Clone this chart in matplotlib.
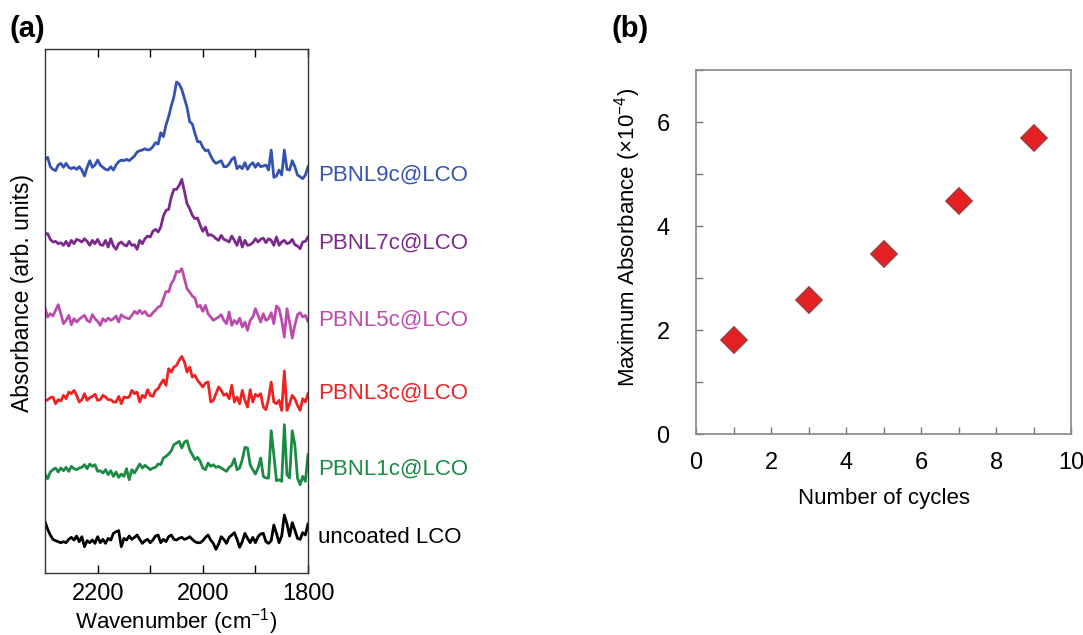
import matplotlib
matplotlib.use("Agg")
import matplotlib.pyplot as plt
import numpy as np

plt.rcParams["font.family"] = ["Liberation Sans", "DejaVu Sans"]
plt.rcParams["mathtext.fontset"] = "custom"
plt.rcParams["mathtext.rm"] = "Liberation Sans"
plt.rcParams["mathtext.it"] = "Liberation Sans"

# ---- panel (a): IR spectra, 2300 -> 1800 cm-1, 5 cm-1 step (arb. units) ----
wn_start, wn_end = 2300, 1800

pbnl9 = [62, 68, 40, 32, 28, 45, 50, 38, 50, 38,
         34, 38, 32, 40, 30, 12, 38, 58, 38, 45,
         60, 45, 38, 32, 30, 40, 30, 45, 55, 60,
         58, 62, 58, 65, 72, 84, 88, 90, 94, 90,
         92, 100, 112, 108, 142, 130, 165, 190, 222, 250,
         294, 288, 272, 245, 218, 175, 168, 140, 115, 115,
         98, 88, 90, 72, 58, 50, 54, 58, 40, 40,
         48, 62, 68, 34, 42, 34, 52, 32, 45, 52,
         38, 50, 40, 42, 45, 30, 90, 8, 12, 30,
         15, 90, 32, 30, 58, 40, 15, 10, 4, 15,
         40]
pbnl7 = [55, 55, 38, 30, 32, 25, 28, 20, 32, 18,
         35, 25, 38, 35, 30, 40, 32, 20, 35, 25,
         38, 22, 20, 35, 15, 40, 18, 8, 25, 30,
         22, 18, 32, 20, 22, 8, 35, 25, 40, 48,
         45, 62, 68, 60, 75, 108, 125, 128, 165, 188,
         188, 200, 218, 182, 145, 130, 110, 100, 102, 80,
         62, 75, 50, 52, 48, 40, 35, 50, 38, 35,
         30, 48, 35, 20, 45, 15, 35, 20, 22, 28,
         40, 30, 38, 42, 28, 40, 35, 20, 45, 20,
         30, 35, 25, 28, 38, 22, 18, 10, 30, 32,
         45]
pbnl5 = [102, 75, 85, 78, 95, 112, 85, 55, 65, 80,
         52, 70, 60, 68, 75, 80, 65, 60, 82, 70,
         62, 50, 70, 62, 72, 65, 70, 78, 60, 82,
         75, 72, 70, 80, 92, 85, 95, 85, 92, 80,
         78, 88, 95, 105, 108, 130, 152, 150, 175, 188,
         212, 210, 220, 190, 160, 150, 138, 132, 105, 110,
         92, 110, 85, 75, 65, 70, 75, 82, 65, 55,
         90, 50, 65, 55, 72, 45, 60, 35, 65, 75,
         100, 80, 60, 85, 65, 70, 88, 55, 108, 100,
         65, 15, 100, 60, 12, 50, 82, 88, 75, 80,
         62]
pbnl3 = [48, 52, 58, 60, 40, 52, 48, 65, 55, 75,
         70, 80, 65, 45, 52, 70, 50, 58, 62, 68,
         50, 52, 65, 60, 52, 52, 45, 45, 62, 40,
         60, 58, 60, 80, 70, 75, 45, 65, 58, 82,
         65, 62, 80, 85, 100, 112, 95, 145, 135, 150,
         155, 170, 182, 165, 135, 150, 120, 125, 110, 100,
         90, 102, 105, 45, 50, 70, 90, 80, 65, 70,
         55, 95, 45, 60, 40, 80, 50, 30, 82, 45,
         68, 62, 70, 30, 22, 55, 105, 45, 40, 50,
         20, 138, 20, 40, 65, 55, 35, 20, 55, 45,
         70]
pbnl1 = [42, 28, 48, 55, 60, 48, 60, 52, 62, 50,
         65, 58, 55, 60, 62, 70, 58, 72, 65, 70,
         50, 52, 45, 55, 40, 52, 35, 48, 32, 42,
         35, 58, 25, 55, 45, 58, 72, 60, 68, 62,
         55, 60, 62, 72, 70, 90, 95, 102, 112, 130,
         135, 140, 120, 138, 142, 115, 100, 85, 92, 80,
         60, 55, 75, 65, 70, 62, 65, 60, 55, 50,
         62, 68, 88, 55, 60, 85, 122, 120, 70, 55,
         42, 60, 90, 35, 30, 30, 172, 100, 22, 25,
         20, 190, 40, 30, 172, 130, 30, 10, 35, 20,
         100]
uncoated = [85, 62, 45, 32, 28, 25, 22, 25, 22, 32,
            38, 30, 42, 25, 40, 10, 28, 22, 30, 20,
            40, 22, 32, 20, 35, 30, 50, 55, 58, 10,
            35, 30, 42, 32, 38, 45, 32, 20, 28, 32,
            22, 30, 42, 45, 22, 32, 25, 40, 45, 32,
            30, 35, 38, 32, 35, 40, 32, 25, 22, 22,
            28, 38, 45, 30, 20, 2, 18, 40, 32, 20,
            38, 45, 52, 32, 8, 25, 50, 35, 22, 38,
            22, 40, 48, 50, 25, 20, 28, 75, 50, 22,
            42, 105, 78, 42, 82, 60, 35, 32, 52, 45,
            78]

spectra = [pbnl9, pbnl7, pbnl5, pbnl3, pbnl1, uncoated]
labels = ["PBNL9c@LCO", "PBNL7c@LCO", "PBNL5c@LCO",
          "PBNL3c@LCO", "PBNL1c@LCO", "uncoated LCO"]
colors = ["#3552b0", "#7b2a8c", "#bb4cae", "#ee2222", "#1b8a44", "#000000"]
offsets = [393, 321, 231, 156, 85, 23]
label_y = [398, 330, 253, 180, 104, 36]

# ---- panel (b): maximum absorbance vs number of cycles ----
cycles = [1, 3, 5, 7, 9]
max_abs = [1.81, 2.58, 3.46, 4.48, 5.69]

fig = plt.figure(figsize=(10.83, 6.35), dpi=100)

ax1 = fig.add_axes([0.0416, 0.0976, 0.2428, 0.8252])
for vals, col, off, lab, ly in zip(spectra, colors, offsets, labels, label_y):
    wn = np.linspace(wn_start, wn_end, len(vals))
    ax1.plot(wn, off + np.array(vals) / 3.0, color=col, lw=2.0)
    ax1.text(1781, ly, lab, color=col, fontsize=16, va="center", ha="left",
             clip_on=False)

ax1.set_xlim(2300, 1800)
ax1.set_ylim(0, 524)
ax1.set_xticks([2200, 2100, 2000, 1900, 1800])
ax1.set_xticklabels(["2200", "", "2000", "", "1800"])
ax1.set_yticks([])
ax1.tick_params(axis="x", direction="in", length=6, width=1, top=True,
                labelsize=17, pad=7)
for sp in ax1.spines.values():
    sp.set_linewidth(1.0)
    sp.set_color("#333333")
ax1.set_xlabel("Wavenumber (cm$^{-1}$)", fontsize=16, labelpad=1)
ax1.set_ylabel("Absorbance (arb. units)", fontsize=16.5)
ax1.yaxis.set_label_coords(-0.042, 0.534)
fig.text(0.009, 0.955, "(a)", fontsize=21, fontweight="bold", va="center")

ax2 = fig.add_axes([0.6427, 0.3165, 0.3463, 0.5732])
ax2.plot(cycles, max_abs, linestyle="none", marker="D", markersize=13.5,
         markerfacecolor="#e62124", markeredgecolor="#a33a3a",
         markeredgewidth=1.2)
ax2.set_xlim(0, 10)
ax2.set_ylim(0, 7)
ax2.set_xticks(range(0, 11))
ax2.set_xticklabels([str(v) if v % 2 == 0 else "" for v in range(0, 11)])
ax2.set_yticks(range(0, 8))
ax2.set_yticklabels([str(v) if v % 2 == 0 else "" for v in range(0, 8)])
ax2.tick_params(direction="in", length=5, width=1, color="#777777",
                labelsize=17)
ax2.tick_params(axis="x", pad=13)
ax2.tick_params(axis="y", pad=19)
for sp in ax2.spines.values():
    sp.set_linewidth(1.2)
    sp.set_color("#888888")
ax2.set_xlabel("Number of cycles", fontsize=16, labelpad=10)
ax2.set_ylabel("Maximum Absorbance ($\\times$10$^{-4}$)", fontsize=16)
ax2.yaxis.set_label_coords(-0.141, 0.541)
fig.text(0.565, 0.955, "(b)", fontsize=21, fontweight="bold", va="center")

fig.savefig("out.png", dpi=100)
